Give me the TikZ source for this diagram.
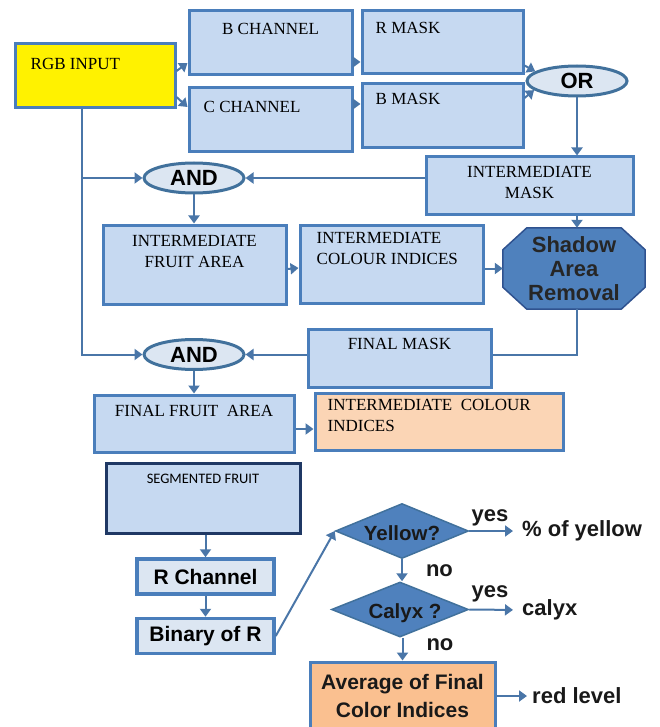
\documentclass[tikz,border=0pt]{standalone}
\usepackage{fontspec}
\setmainfont{Liberation Serif}
\setsansfont{Liberation Sans}
\newfontfamily\segfont{Carlito}
\usepackage{tikz}
\usetikzlibrary{calc, positioning, arrows.meta, shapes.geometric, backgrounds}

\definecolor{boxfill}{HTML}{C6D9F1}
\definecolor{boxline}{HTML}{4A7EBB}
\definecolor{flowcol}{HTML}{4A76A8}
\definecolor{opfill}{HTML}{DCE6F2}
\definecolor{opline}{HTML}{41719C}
\definecolor{darkfill}{HTML}{4F81BD}
\definecolor{darkline}{HTML}{2F528F}
\definecolor{peach}{HTML}{FBD5B5}
\definecolor{avgfill}{HTML}{FAC090}
\definecolor{segline}{HTML}{1F3864}

\tikzset{
  blk/.style={draw=boxline, fill=boxfill, line width=3pt, inner sep=0pt},
  lbl/.style={font=\fontsize{17}{21}\selectfont, text=black, inner sep=0pt},
  gate/.style={ellipse, draw=opline, fill=opfill, line width=3pt, minimum width=100pt, minimum height=30pt, inner sep=0pt, font=\sffamily\bfseries\fontsize{22}{24}\selectfont},
  test/.style={diamond, draw=opline, fill=darkfill, line width=1.5pt, inner sep=0pt},
  small/.style={draw=boxline, fill=opfill, line width=3.5pt, minimum width=137pt, minimum height=35pt, font=\sffamily\bfseries\fontsize{21}{24}\selectfont},
  res/.style={font=\sffamily\bfseries\fontsize{22}{24}\selectfont, text=black!90, inner sep=1pt},
  flow/.style={draw=flowcol, line width=2pt, -{Triangle[width=11pt,length=8pt]}},
  tie/.style={draw=flowcol, line width=2pt},
}

\begin{document}
\begin{tikzpicture}[x=1pt, y=-1pt]
\useasboundingbox (0,0) rectangle (660,727);

		% nodes - top part %
		\node[blk, fill=yellow, minimum width=160pt, minimum height=64pt, label={[lbl, anchor=west, xshift=17pt, yshift=-21pt]north west:RGB INPUT}] (rgb) at (95,76) {};
		\node[blk, minimum width=163pt, minimum height=64pt, label={[lbl, anchor=center, yshift=-19pt]north:B CHANNEL}] (bch) at (270.5,43) {};
		\node[blk, minimum width=163pt, minimum height=64pt, label={[lbl, anchor=west, xshift=16pt, yshift=-20pt]north west:C CHANNEL}] (cch) at (270.5,120) {};
		\node[blk, minimum width=161pt, minimum height=63pt, label={[lbl, anchor=west, xshift=15pt, yshift=-18pt]north west:R MASK}] (rmask) at (442.5,42.5) {};
		\node[blk, minimum width=161pt, minimum height=64pt, label={[lbl, anchor=west, xshift=15pt, yshift=-16pt]north west:B MASK}] (bmask) at (442.5,116) {};
		\node[gate] (or) at (577,81) {OR};
		\node[blk, minimum width=207pt, minimum height=58pt, label={[lbl, align=center, anchor=center, yshift=-27pt]north:INTERMEDIATE\\MASK}] (imask) at (529.5,186) {};
		\node[gate] (and1) at (194,178) {AND};
		\node[blk, minimum width=183pt, minimum height=79pt, label={[lbl, align=center, anchor=center, yshift=-27.5pt]north:INTERMEDIATE\\FRUIT AREA}] (ifa) at (194.5,264.5) {};
		\node[blk, minimum width=183pt, minimum height=78pt, label={[lbl, align=left, anchor=west, xshift=18pt, yshift=-25pt]north west:INTERMEDIATE\\COLOUR INDICES}] (ici) at (391.5,264) {};
		\node[inner sep=0pt, minimum width=142pt, minimum height=81pt, align=center, font=\sffamily\bfseries\fontsize{22}{24}\selectfont, text=black!85] (sh) at (574,268.5) {Shadow\\Area\\Removal};
		\scoped[on background layer]
		\draw[draw=darkline, fill=darkfill, line width=1.5pt] ($(sh.north west)+(24,0)$) -- ($(sh.north east)+(-24,0)$) -- ($(sh.north east)+(0,22)$) -- ($(sh.south east)+(0,-22)$) -- ($(sh.south east)+(-24,0)$) -- ($(sh.south west)+(24,0)$) -- ($(sh.south west)+(0,-22)$) -- ($(sh.north west)+(0,22)$) -- cycle;
		\node[gate] (and2) at (194,354.5) {AND};
		\node[blk, minimum width=183pt, minimum height=58pt, label={[lbl, anchor=center, yshift=-16pt]north:FINAL MASK}] (fmask) at (399.5,358) {};
		\node[blk, minimum width=200pt, minimum height=57pt, label={[lbl, anchor=center, yshift=-17pt]north:FINAL FRUIT~ AREA}] (ffa) at (194,423.5) {};
		\node[blk, fill=peach, minimum width=248pt, minimum height=57pt, label={[lbl, align=left, anchor=west, xshift=14pt, yshift=-24pt]north west:INTERMEDIATE~ COLOUR\\INDICES}] (ici2) at (439,421.5) {};

		% nodes - bottom part %
		\node[blk, draw=segline, minimum width=194pt, minimum height=70pt, label={[anchor=center, inner sep=0pt, yshift=-17pt, font=\segfont\fontsize{14.5}{16}\selectfont]north:SEGMENTED FRUIT}] (seg) at (203,498) {};
		\node[small] (rch) at (205.5,576.5) {R Channel};
		\node[small] (bin) at (205.5,636) {Binary of R};
		\node[test, minimum width=133pt, minimum height=55pt, label={[res, font=\sffamily\bfseries\fontsize{20.5}{24}\selectfont, anchor=center, yshift=-2pt]center:Yellow?}] (yel) at (402,531) {};
		\node[test, minimum width=137pt, minimum height=55pt, label={[res, font=\sffamily\bfseries\fontsize{20.5}{24}\selectfont, anchor=center, xshift=5pt, yshift=-3.5pt]center:Calyx ?}] (cal) at (400,609.5) {};
		\node[blk, fill=avgfill, minimum width=185pt, minimum height=68pt, align=center, text=black!90, font=\sffamily\bfseries\fontsize{21}{28}\selectfont] (avg) at (402.5,696) {Average of Final\\Color Indices};
		\node[res, anchor=west] (pct) at (521,531) {\% of yellow};
		\node[res, anchor=west] (clx) at (521,610) {calyx};
		\node[res, anchor=west] (red) at (531,696) {red level};

		% edges %
		\draw[flow] ([yshift=5pt]rgb.east) -- ([yshift=-20pt]bch.west);
		\draw[flow] ([yshift=-21pt]rgb.east) -- ([yshift=13pt]cch.west);
		\draw[flow] ([yshift=-19pt]bch.east) -- ([yshift=-19.5pt]rmask.west);
		\draw[flow] ([yshift=16pt]cch.east) -- ([yshift=12pt]bmask.west);
		\draw[flow] ([yshift=-23pt]rmask.east) -- (or.167);
		\draw[flow] ([yshift=18pt]bmask.east) -- (or.192);
		\draw[flow] (or.south) -- (or.south |- imask.north);
		\draw[flow] (imask.west |- and1.east) -- (and1.east);
		\draw[flow] (imask.south -| or.south) -- (sh.north -| or.south);
		\draw[flow] ([xshift=-13pt]rgb.south) |- (and1.west);
		\draw[flow] ([xshift=-13pt]rgb.south) |- (and2.west);
		\draw[flow] (and1.south) -- (and1.south |- ifa.north);
		\draw[flow] ([yshift=-4.5pt]ifa.east) -- ([yshift=-4pt]ici.west);
		\draw[flow] ([yshift=-4.5pt]ici.east) -- (sh.west);
		\draw[tie] (sh.south -| or.south) |- (fmask.east |- and2.east);
		\draw[flow] (fmask.west |- and2.east) -- (and2.east);
		\draw[flow] (and2.south) -- (and2.south |- ffa.north);
		\draw[flow] ([yshift=-5.5pt]ffa.east) -- ([yshift=-7.5pt]ici2.west);
		\draw[flow] (seg.south -| rch.north) -- (rch.north);
		\draw[flow] (rch.south) -- (bin.north);
		\draw[flow] (bin.east) -- (yel.west);
		\draw[flow, shorten >=8pt] (yel.east) -- node[res, above=3pt, pos=0.4] {yes} (pct.west);
		\draw[flow] (yel.south) -- node[res, right=22pt] {no} (yel.south |- cal.north);
		\draw[flow, shorten >=8pt] (cal.east) -- node[res, above=6pt, pos=0.4] {yes} (clx.west);
		\draw[flow] (avg.north |- cal.south) -- node[res, right=22pt, pos=0.32] {no} (avg.north);
		\draw[flow, shorten >=4pt] (avg.east) -- (red.west);
\end{tikzpicture}
\end{document}
